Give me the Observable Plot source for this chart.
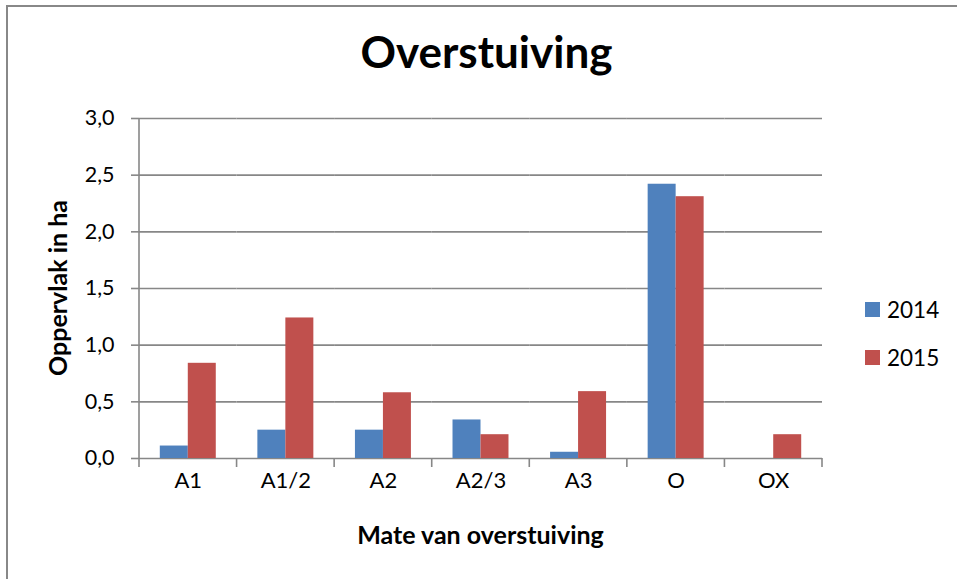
<!DOCTYPE html>
<html>
<head>
<meta charset="utf-8">
<script src="https://cdn.jsdelivr.net/npm/d3@7"></script>
<script src="https://cdn.jsdelivr.net/npm/@observablehq/plot@0.6"></script>
<style>
  html, body { margin: 0; padding: 0; background: #fff; }
  body { font-family: Lato, "Open Sans", sans-serif; }
  #wrap { position: relative; width: 957px; height: 579px; overflow: hidden; }
  #borderL { position: absolute; left: 6px; top: 5px; width: 2px; height: 580px; background: #888; }
  #borderT { position: absolute; left: 6px; top: 5px; width: 960px; height: 2px; background: #888; }
  #title { position: absolute; left: 0; width: 973px; top: 29px; text-align: center; font-weight: 700; font-size: 44px; color: #000; line-height: 1; }
  #xtitle { position: absolute; left: 0; width: 961px; top: 522px; text-align: center; font-weight: 700; font-size: 25px; color: #000; line-height: 1; }
  #ytitle { position: absolute; left: 57px; top: 288px; transform: translate(-50%, -50%) rotate(-90deg); white-space: nowrap; font-weight: 700; font-size: 25px; color: #000; line-height: 1; }
  #chart { position: absolute; left: 0; top: 100px; }
  .leg { position: absolute; left: 865px; display: flex; align-items: center; font-size: 22.5px; color: #000; }
  .leg span.sw { display: inline-block; width: 15px; height: 15px; margin-right: 7px; }
</style>
</head>
<body>
<div id="wrap">
  <div id="borderL"></div>
  <div id="borderT"></div>
  <div id="title">Overstuiving</div>
  <div id="ytitle">Oppervlak in ha</div>
  <div id="xtitle">Mate van overstuiving</div>
  <div id="chart"></div>
  <div id="legend"></div>
</div>
<script>
const categories = ["A1", "A1/2", "A2", "A2/3", "A3", "O", "OX"];
const years = ["2014", "2015"];
const values2014 = [0.11, 0.25, 0.25, 0.34, 0.055, 2.42, 0];
const values2015 = [0.84, 1.24, 0.58, 0.21, 0.59, 2.31, 0.21];
const yTicks = [0, 0.5, 1.0, 1.5, 2.0, 2.5, 3.0];
const colors = ["#4F81BD", "#C0504D"];

const data = [];
categories.forEach((c, i) => {
  data.push({cat: c, year: "2014", value: values2014[i]});
  data.push({cat: c, year: "2015", value: values2015[i]});
});

const fmt = d => d3.format(".1f")(d).replace(".", ",");
const W = 957, H = 479;

const chart = Plot.plot({
  width: W,
  height: H,
  marginLeft: 139,
  marginRight: 135,
  marginTop: 18,
  marginBottom: 121,
  style: {fontFamily: "Lato, 'Open Sans', sans-serif", background: "transparent"},
  fx: {domain: categories, padding: 0, round: false, label: null},
  x: {domain: years, paddingInner: 0, paddingOuter: 0.743, round: false, axis: null},
  y: {domain: [0, 3], label: null},
  color: {domain: years, range: colors},
  marks: [
    Plot.gridY(yTicks, {stroke: "#878787", strokeOpacity: 1, strokeWidth: 1.6}),
    Plot.barY(data, {fx: "cat", x: "year", y: "value", fill: "year", inset: 0}),
    Plot.axisY({ticks: yTicks, tickFormat: fmt, tickSize: 8, tickPadding: 17, stroke: "#878787", strokeWidth: 1.6, fontSize: 21.5, fill: "#000", label: null}),
    Plot.axisFx({anchor: "bottom", tickSize: 0, tickPadding: 14, fontSize: 22, fill: "#000", label: null})
  ]
});

document.getElementById("chart").appendChild(chart);

// Category-boundary ticks and vertical axis line, positioned from the library's scales
const fx = chart.scale("fx");
const ys = chart.scale("y");
const r0 = fx.range[0], r1 = fx.range[1];
const step = (r1 - r0) / categories.length;
const y0 = ys.apply(0), y3 = ys.apply(3);
const svg = d3.select(chart);
const g = svg.append("g").attr("stroke", "#878787").attr("stroke-width", 1.6);
g.append("line").attr("x1", r0).attr("x2", r0).attr("y1", y3).attr("y2", y0 + 9);
for (let i = 1; i <= categories.length; i++) {
  const x = r0 + i * step;
  g.append("line").attr("x1", x).attr("x2", x).attr("y1", y0).attr("y2", y0 + 9);
}

// Legend
const legend = document.getElementById("legend");
const legendTops = [296, 344];
years.forEach((yr, i) => {
  const d = document.createElement("div");
  d.className = "leg";
  d.style.top = legendTops[i] + "px";
  d.innerHTML = `<span class="sw" style="background:${colors[i]}"></span><span>${yr}</span>`;
  legend.appendChild(d);
});
</script>
</body>
</html>
